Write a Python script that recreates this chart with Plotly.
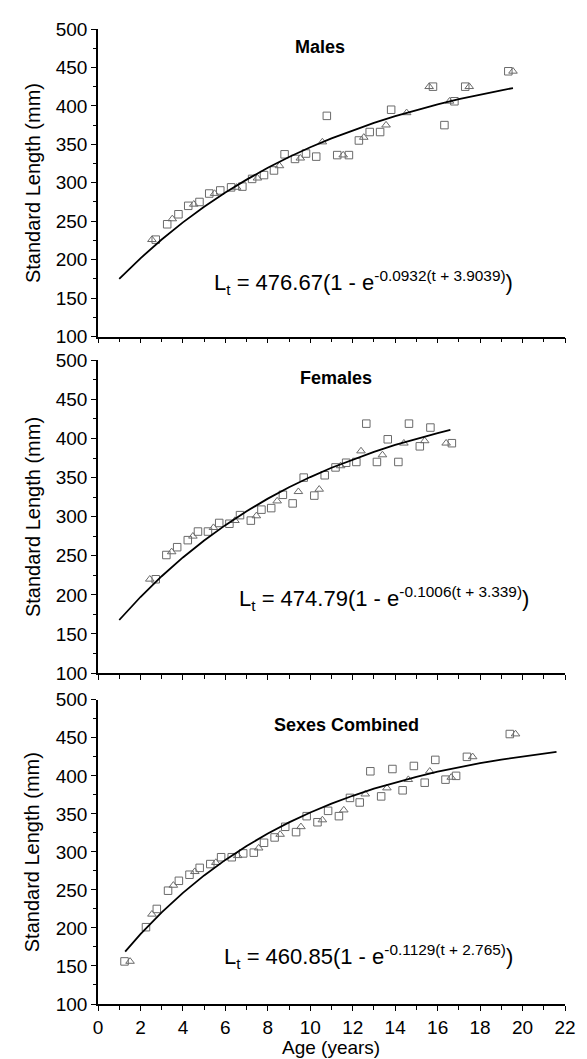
import plotly.graph_objects as go
from plotly.subplots import make_subplots

# ---------------- data ----------------
panel_titles = ["Males", "Females", "Sexes Combined"]
eq_main = ["476.67(1 - e", "474.79(1 - e", "460.85(1 - e"]
eq_exp = ["-0.0932(t + 3.9039)", "-0.1006(t + 3.339)", "-0.1129(t + 2.765)"]

m_sq_age = [2.72, 3.26, 3.79, 4.25, 4.78, 5.24, 5.76, 6.27, 6.80, 7.26, 7.82, 8.29, 8.79, 9.28,
            9.80, 10.28, 10.78, 11.27, 11.82, 12.29, 12.80, 13.29, 13.81, 15.78, 16.32, 16.79,
            17.30, 19.33]
m_sq_len = [226, 246, 259, 270, 275, 286, 290, 294, 295, 305, 310, 316, 337, 331,
            338, 334, 387, 336, 336, 355, 366, 366, 395, 425, 375, 406,
            425, 445]
m_tr_age = [2.54, 3.50, 4.51, 5.49, 6.53, 7.51, 8.55, 9.53, 10.57, 11.55, 12.52, 13.57, 14.54,
            15.60, 16.56, 17.49, 19.55]
m_tr_len = [226, 253, 272, 286, 294, 306, 322, 332, 353, 336, 359, 375, 391,
            425, 406, 425, 445]
m_fit_age = [1, 2, 3, 4, 5, 6, 7, 8, 9, 10, 11, 12, 13, 14, 15, 16, 17, 18, 19, 19.55]
m_fit_len = [174.9, 201.7, 226.2, 248.5, 268.8, 287.3, 304.1, 319.5, 333.5, 346.2, 357.8,
             368.4, 378.0, 386.8, 394.8, 402.1, 408.7, 414.8, 420.3, 423.1]

f_sq_age = [2.72, 3.22, 3.73, 4.23, 4.71, 5.18, 5.71, 6.19, 6.69, 7.20, 7.70, 8.16, 8.71, 9.17,
            9.69, 10.19, 10.68, 11.19, 11.69, 12.17, 12.64, 13.14, 13.65, 14.15, 14.65, 15.16,
            15.66, 16.67]
f_sq_len = [220, 251, 261, 270, 281, 281, 292, 291, 302, 295, 309, 311, 328, 317,
            350, 327, 353, 363, 369, 370, 419, 370, 399, 370, 419, 390,
            414, 394]
f_tr_age = [2.44, 3.47, 4.47, 5.44, 6.45, 7.46, 8.44, 9.44, 10.42, 11.43, 12.39, 13.40, 14.41,
            15.39, 16.40]
f_tr_len = [220, 255, 275, 286, 295, 301, 320, 332, 335, 365, 384, 379, 394,
            397, 394]
f_fit_age = [1, 2, 3, 4, 5, 6, 7, 8, 9, 10, 11, 12, 13, 14, 15, 16, 16.6]
f_fit_len = [167.9, 197.3, 223.9, 247.9, 269.6, 289.2, 307.0, 323.1, 337.6, 350.7, 362.6,
             373.3, 383.0, 391.8, 399.8, 406.9, 410.9]

c_sq_age = [1.25, 2.26, 2.77, 3.30, 3.81, 4.31, 4.79, 5.29, 5.80, 6.30, 6.84, 7.34, 7.82, 8.32,
            8.82, 9.33, 9.83, 10.34, 10.84, 11.35, 11.87, 12.33, 12.83, 13.34, 13.87, 14.35,
            14.88, 15.39, 15.89, 16.37, 16.87, 17.38, 19.40]
c_sq_len = [156, 201, 225, 249, 262, 270, 279, 284, 293, 293, 298, 299, 312, 319,
            333, 326, 347, 339, 354, 347, 371, 365, 406, 373, 409, 381,
            413, 391, 421, 395, 400, 425, 455]
c_tr_age = [1.51, 2.54, 3.55, 4.56, 5.55, 6.58, 7.57, 8.58, 9.56, 10.57, 11.58, 12.59, 13.61,
            14.62, 15.63, 16.64, 17.65, 19.67]
c_tr_len = [156, 218, 256, 274, 286, 295, 305, 323, 333, 342, 355, 376, 384,
            395, 406, 398, 425, 455]
c_fit_age = [1.28, 2, 3, 4, 5, 6, 7, 8, 9, 10, 11, 12, 13, 14, 15, 16, 17, 18, 19, 20, 21, 21.6]
c_fit_len = [169.0, 191.8, 220.5, 246.1, 269.1, 289.5, 307.8, 324.2, 338.8, 351.8, 363.4,
             373.8, 383.1, 391.4, 398.8, 405.5, 411.4, 416.7, 421.4, 425.6, 429.4, 431.4]

x_tick_vals = [0, 2, 4, 6, 8, 10, 12, 14, 16, 18, 20, 22]
y_tick_vals = [100, 150, 200, 250, 300, 350, 400, 450, 500]

# ---------------- layout helpers ----------------
FONT = "Liberation Sans, Arial, sans-serif"
MARK = "#6a6a6a"

panels = [
    (m_sq_age, m_sq_len, m_tr_age, m_tr_len, m_fit_age, m_fit_len),
    (f_sq_age, f_sq_len, f_tr_age, f_tr_len, f_fit_age, f_fit_len),
    (c_sq_age, c_sq_len, c_tr_age, c_tr_len, c_fit_age, c_fit_len),
]
domains = [[0.6846, 1.0], [0.3394, 0.6602], [0.0, 0.3120]]
title_pos = [(10.48, 476), (11.23, 478), (11.72, 467)]
eq_pos = [(5.35, 170), (6.57, 196), (5.85, 162)]

fig = make_subplots(rows=3, cols=1)

for i, (sa, sl, ta, tl, fa, fl) in enumerate(panels):
    r = i + 1
    fig.add_trace(go.Scatter(x=sa, y=sl, mode="markers",
                             marker=dict(symbol="square-open", size=7.5, color=MARK,
                                         line=dict(width=1, color=MARK)),
                             showlegend=False), row=r, col=1)
    fig.add_trace(go.Scatter(x=ta, y=tl, mode="markers",
                             marker=dict(symbol="triangle-up-open", size=7.5, color=MARK,
                                         line=dict(width=1, color=MARK)),
                             showlegend=False), row=r, col=1)
    fig.add_trace(go.Scatter(x=fa, y=fl, mode="lines",
                             line=dict(color="black", width=1.8),
                             showlegend=False), row=r, col=1)

axis_common = dict(showline=True, linecolor="black", linewidth=1.5, showgrid=False,
                   zeroline=False, ticks="outside", tickcolor="black", tickwidth=1.2,
                   tickfont=dict(family=FONT, size=19, color="black"))

# page body has an 8px margin, so the figure is 8px smaller than the window
layout = dict(width=579, height=1051, plot_bgcolor="white", paper_bgcolor="white",
              margin=dict(l=90, r=17, t=11, b=55), showlegend=False)

for i in range(3):
    xa = "xaxis" if i == 0 else f"xaxis{i+1}"
    ya = "yaxis" if i == 0 else f"yaxis{i+1}"
    layout[xa] = dict(axis_common, range=[0, 22], tickvals=x_tick_vals, ticklen=5,
                      showticklabels=(i == 2),
                      minor=dict(dtick=1, tick0=0, ticklen=4, ticks="outside",
                                 tickcolor="black", tickwidth=1.2))
    layout[ya] = dict(axis_common, range=[100, 500], tickvals=y_tick_vals, ticklen=5,
                      domain=domains[i],
                      minor=dict(dtick=25, tick0=100, ticklen=3, ticks="outside",
                                 tickcolor="black", tickwidth=1.2))

fig.update_layout(**layout)

annotations = []
for i in range(3):
    xr = "x" if i == 0 else f"x{i+1}"
    yr = "y" if i == 0 else f"y{i+1}"
    annotations.append(dict(x=title_pos[i][0], y=title_pos[i][1], xref=xr, yref=yr,
                            text=f"<b>{panel_titles[i]}</b>", showarrow=False,
                            xanchor="center", yanchor="middle",
                            font=dict(family=FONT, size=18, color="black")))
    eq_text = "L<sub>t</sub> = " + eq_main[i] + "<sup>" + eq_exp[i] + "</sup>)"
    annotations.append(dict(x=eq_pos[i][0], y=eq_pos[i][1], xref=xr, yref=yr,
                            text=eq_text, showarrow=False,
                            xanchor="left", yanchor="middle",
                            font=dict(family=FONT, size=22, color="black")))
    d = domains[i]
    annotations.append(dict(x=-0.1406, y=(d[0] + d[1]) / 2, xref="paper", yref="paper",
                            text="Standard Length (mm)", textangle=-90, showarrow=False,
                            xanchor="center", yanchor="middle",
                            font=dict(family=FONT, size=20, color="black")))
annotations.append(dict(x=(333 - 98) / 472, y=-0.0447, xref="paper", yref="paper",
                        text="Age (years)", showarrow=False, xanchor="center",
                        yanchor="middle", font=dict(family=FONT, size=19, color="black")))
fig.update_layout(annotations=annotations)

fig.write_html("out.html")
